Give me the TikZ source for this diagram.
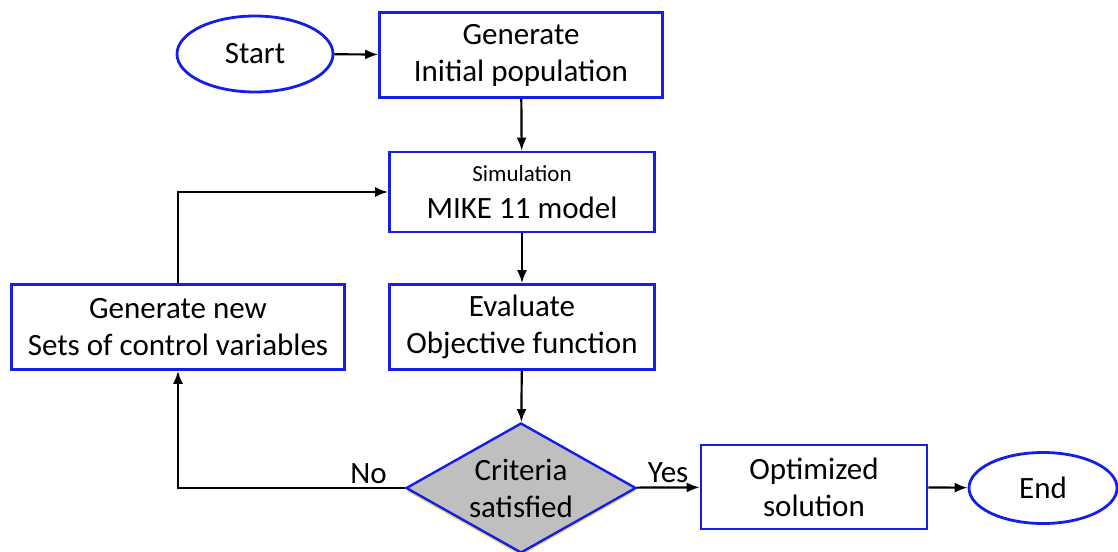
\documentclass[tikz,border=0pt]{standalone}
\usepackage{fontspec}
\setmainfont{Carlito}
\usetikzlibrary{shapes.geometric,arrows.meta,shadows}

\definecolor{boxblue}{RGB}{20,30,230}
\definecolor{diagray}{RGB}{191,191,191}
\definecolor{shadeyel}{RGB}{220,205,80}

\begin{document}
\begin{tikzpicture}[x=1pt, y=-1pt,
		every node/.style={font=\fontsize{31}{37}\selectfont, align=center},
		procbox/.style={draw=boxblue, line width=2.6pt, fill=white, inner sep=0pt},
		termnode/.style={ellipse, draw=boxblue, line width=2.8pt, fill=white, inner sep=0pt},
		flow/.style={line width=2.2pt, -{Latex[length=13pt,width=10pt]}}]
		
		\useasboundingbox[fill=white] (0,0) rectangle (1118,551);
		
		% --- terminals ---
		\node[termnode, minimum width=156pt, minimum height=76pt] (start) at (255,54) {Start};
		\node[termnode, minimum width=148pt, minimum height=71pt] (end) at (1043,488) {End};
		
		% --- process boxes ---
		\node[procbox, minimum width=283pt, minimum height=85pt] (init) at (521,55) {Generate\\Initial population};
		\node[procbox, minimum width=265pt, minimum height=80pt] (sim) at (522,192) {{\fontsize{23}{28}\selectfont Simulation}\\MIKE 11 model};
		\node[procbox, minimum width=265pt, minimum height=85pt] (eval) at (522,327) {Evaluate\\Objective function};
		\node[procbox, minimum width=333pt, minimum height=85pt] (newset) at (178,327) {Generate new\\Sets of control variables};
		\node[procbox, minimum width=226pt, minimum height=84pt] (opt) at (814,487) {Optimized\\solution};
		
		% --- decision ---
		\node[diamond, draw=boxblue, fill=diagray, line width=2.4pt, inner sep=0pt,
			minimum width=230pt, minimum height=130pt, aspect=1.77,
			drop shadow={fill=shadeyel, opacity=0.8, shadow xshift=0pt, shadow yshift=-3pt}] (crit) at (521,488) {Criteria\\satisfied};
		
		% --- connectors ---
		\draw[flow] (start) -- (init);
		\draw[flow] (init) -- (sim);
		\draw[flow] (sim) -- (eval);
		\draw[flow] (eval) -- (crit);
		\draw[flow] (crit) -- node[above] {Yes} (opt);
		\draw[flow] (opt) -- (end);
		\draw[flow] (crit.west) -| node[pos=0.08, above] {No} (newset);
		\draw[flow] (newset) |- (sim);
		
	\end{tikzpicture}
\end{document}
